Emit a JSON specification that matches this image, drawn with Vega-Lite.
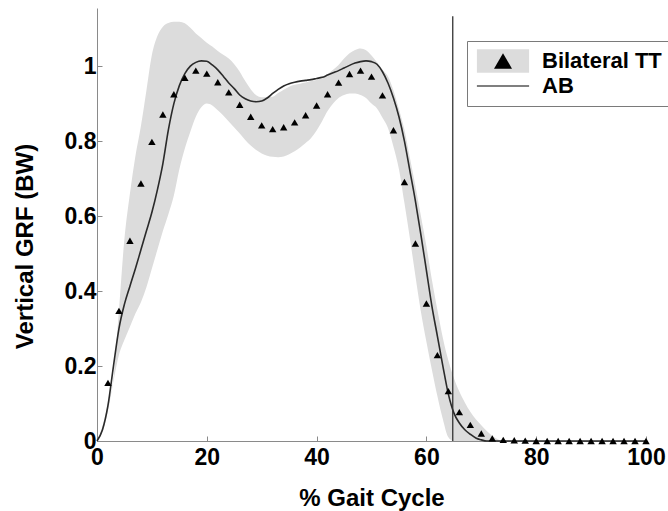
{
  "$schema": "https://vega.github.io/schema/vega-lite/v6.json",
  "width": 549,
  "height": 433,
  "autosize": "none",
  "padding": {"left": 97, "top": 8, "right": 22, "bottom": 70},
  "background": "white",
  "config": {
    "view": {"stroke": null},
    "font": "Liberation Sans",
    "axis": {
      "labelFont": "Liberation Sans", "labelFontSize": 23, "labelFontWeight": "bold", "labelColor": "black",
      "titleFont": "Liberation Sans", "titleFontSize": 24, "titleFontWeight": "bold", "titleColor": "black",
      "domainColor": "#8a8a8a", "tickColor": "#8a8a8a", "tickSize": -5, "grid": false
    },
    "legend": {
      "labelFont": "Liberation Sans", "labelFontSize": 22, "labelFontWeight": "bold", "labelColor": "black"
    }
  },
  "datasets": {
    "curves": [
      {"x": 0, "ab": 0, "lo": 0, "hi": 0},
      {"x": 1, "ab": 0.03, "lo": 0.025, "hi": 0.04},
      {"x": 2, "ab": 0.095, "lo": 0.08, "hi": 0.1},
      {"x": 3, "ab": 0.2, "lo": 0.16, "hi": 0.17},
      {"x": 4, "ab": 0.3, "lo": 0.23, "hi": 0.35},
      {"x": 5, "ab": 0.365, "lo": 0.27, "hi": 0.54},
      {"x": 6, "ab": 0.413, "lo": 0.305, "hi": 0.66},
      {"x": 7, "ab": 0.46, "lo": 0.34, "hi": 0.76},
      {"x": 8, "ab": 0.51, "lo": 0.37, "hi": 0.84},
      {"x": 9, "ab": 0.56, "lo": 0.41, "hi": 0.935},
      {"x": 10, "ab": 0.61, "lo": 0.46, "hi": 1.03},
      {"x": 11, "ab": 0.67, "lo": 0.51, "hi": 1.08},
      {"x": 12, "ab": 0.74, "lo": 0.56, "hi": 1.105},
      {"x": 13, "ab": 0.83, "lo": 0.605, "hi": 1.115},
      {"x": 14, "ab": 0.9, "lo": 0.655, "hi": 1.118},
      {"x": 15, "ab": 0.948, "lo": 0.725, "hi": 1.118},
      {"x": 16, "ab": 0.98, "lo": 0.78, "hi": 1.114},
      {"x": 17, "ab": 1.0, "lo": 0.825, "hi": 1.102},
      {"x": 18, "ab": 1.01, "lo": 0.865, "hi": 1.087},
      {"x": 19, "ab": 1.014, "lo": 0.89, "hi": 1.075},
      {"x": 20, "ab": 1.013, "lo": 0.9, "hi": 1.062},
      {"x": 21, "ab": 1.003, "lo": 0.895, "hi": 1.052},
      {"x": 22, "ab": 0.99, "lo": 0.882, "hi": 1.04},
      {"x": 23, "ab": 0.973, "lo": 0.868, "hi": 1.03},
      {"x": 24, "ab": 0.955, "lo": 0.852, "hi": 1.02},
      {"x": 25, "ab": 0.94, "lo": 0.836, "hi": 1.005},
      {"x": 26, "ab": 0.923, "lo": 0.82, "hi": 0.985},
      {"x": 27, "ab": 0.913, "lo": 0.803, "hi": 0.96},
      {"x": 28, "ab": 0.907, "lo": 0.788, "hi": 0.938},
      {"x": 29, "ab": 0.905, "lo": 0.776, "hi": 0.922},
      {"x": 30, "ab": 0.907, "lo": 0.767, "hi": 0.917},
      {"x": 31, "ab": 0.915, "lo": 0.761, "hi": 0.917},
      {"x": 32, "ab": 0.927, "lo": 0.758, "hi": 0.918},
      {"x": 33, "ab": 0.938, "lo": 0.757, "hi": 0.928},
      {"x": 34, "ab": 0.947, "lo": 0.759, "hi": 0.937},
      {"x": 35, "ab": 0.953, "lo": 0.765, "hi": 0.945},
      {"x": 36, "ab": 0.957, "lo": 0.773, "hi": 0.95},
      {"x": 37, "ab": 0.96, "lo": 0.783, "hi": 0.953},
      {"x": 38, "ab": 0.962, "lo": 0.795, "hi": 0.956},
      {"x": 39, "ab": 0.964, "lo": 0.808, "hi": 0.96},
      {"x": 40, "ab": 0.967, "lo": 0.828, "hi": 0.963},
      {"x": 41, "ab": 0.97, "lo": 0.853, "hi": 0.968},
      {"x": 42, "ab": 0.976, "lo": 0.88, "hi": 0.978},
      {"x": 43, "ab": 0.982, "lo": 0.9, "hi": 0.99},
      {"x": 44, "ab": 0.988, "lo": 0.915, "hi": 1.003},
      {"x": 45, "ab": 0.995, "lo": 0.923, "hi": 1.02},
      {"x": 46, "ab": 1.002, "lo": 0.927, "hi": 1.034},
      {"x": 47, "ab": 1.008, "lo": 0.927, "hi": 1.043},
      {"x": 48, "ab": 1.012, "lo": 0.923, "hi": 1.047},
      {"x": 49, "ab": 1.014, "lo": 0.915, "hi": 1.042},
      {"x": 50, "ab": 1.012, "lo": 0.9, "hi": 1.028},
      {"x": 51, "ab": 1.005, "lo": 0.887, "hi": 1.01},
      {"x": 52, "ab": 0.985, "lo": 0.862, "hi": 0.99},
      {"x": 53, "ab": 0.955, "lo": 0.835, "hi": 0.972},
      {"x": 54, "ab": 0.915, "lo": 0.785, "hi": 0.935},
      {"x": 55, "ab": 0.865, "lo": 0.725, "hi": 0.885},
      {"x": 56, "ab": 0.8, "lo": 0.635, "hi": 0.83},
      {"x": 57, "ab": 0.72, "lo": 0.54, "hi": 0.755},
      {"x": 58, "ab": 0.64, "lo": 0.44, "hi": 0.68},
      {"x": 59, "ab": 0.55, "lo": 0.345, "hi": 0.6},
      {"x": 60, "ab": 0.455, "lo": 0.265, "hi": 0.52},
      {"x": 61, "ab": 0.36, "lo": 0.19, "hi": 0.43},
      {"x": 62, "ab": 0.28, "lo": 0.12, "hi": 0.35},
      {"x": 63, "ab": 0.2, "lo": 0.058, "hi": 0.275},
      {"x": 64, "ab": 0.125, "lo": 0.01, "hi": 0.215},
      {"x": 65, "ab": 0.075, "lo": 0, "hi": 0.168},
      {"x": 66, "ab": 0.048, "lo": 0, "hi": 0.132},
      {"x": 67, "ab": 0.03, "lo": 0, "hi": 0.103},
      {"x": 68, "ab": 0.018, "lo": 0, "hi": 0.078},
      {"x": 69, "ab": 0.008, "lo": 0, "hi": 0.058},
      {"x": 70, "ab": 0.003, "lo": 0, "hi": 0.042},
      {"x": 71, "ab": 0, "lo": 0, "hi": 0.027},
      {"x": 72, "ab": 0, "lo": 0, "hi": 0.014},
      {"x": 73, "ab": 0, "lo": 0, "hi": 0.005},
      {"x": 74, "ab": 0, "lo": 0, "hi": 0},
      {"x": 100, "ab": 0, "lo": 0, "hi": 0}
    ],
    "tt": [
      {"x": 2, "y": 0.155}, {"x": 4, "y": 0.347}, {"x": 6, "y": 0.534}, {"x": 8, "y": 0.687},
      {"x": 10, "y": 0.798}, {"x": 12, "y": 0.871}, {"x": 14, "y": 0.925}, {"x": 16, "y": 0.969},
      {"x": 18, "y": 0.988}, {"x": 20, "y": 0.98}, {"x": 22, "y": 0.957}, {"x": 24, "y": 0.93},
      {"x": 26, "y": 0.897}, {"x": 28, "y": 0.865}, {"x": 30, "y": 0.842}, {"x": 32, "y": 0.832},
      {"x": 34, "y": 0.837}, {"x": 36, "y": 0.85}, {"x": 38, "y": 0.869}, {"x": 40, "y": 0.895},
      {"x": 42, "y": 0.925}, {"x": 44, "y": 0.956}, {"x": 46, "y": 0.979}, {"x": 48, "y": 0.988},
      {"x": 50, "y": 0.972}, {"x": 52, "y": 0.922}, {"x": 54, "y": 0.829}, {"x": 56, "y": 0.691},
      {"x": 58, "y": 0.527}, {"x": 60, "y": 0.367}, {"x": 62, "y": 0.229}, {"x": 64, "y": 0.133},
      {"x": 66, "y": 0.077}, {"x": 68, "y": 0.043}, {"x": 70, "y": 0.02}, {"x": 72, "y": 0.007},
      {"x": 74, "y": 0.003}, {"x": 76, "y": 0.002}, {"x": 78, "y": 0.001}, {"x": 80, "y": 0},
      {"x": 82, "y": 0}, {"x": 84, "y": 0}, {"x": 86, "y": 0}, {"x": 88, "y": 0}, {"x": 90, "y": 0},
      {"x": 92, "y": 0}, {"x": 94, "y": 0}, {"x": 96, "y": 0}, {"x": 98, "y": 0}, {"x": 100, "y": 0}
    ],
    "toeoff": [{"x": 64.8}]
  },
  "layer": [
    {
      "data": {"name": "curves"},
      "mark": {"type": "area", "interpolate": "monotone"},
      "encoding": {
        "x": {"field": "x", "type": "quantitative", "scale": {"domain": [0, 100], "nice": false},
          "axis": {"values": [0, 20, 40, 60, 80, 100], "labelFlush": false, "labelPadding": 28, "labelBaseline": "alphabetic",
            "title": "% Gait Cycle", "titleY": 64, "titleBaseline": "alphabetic"}},
        "y": {"field": "hi", "type": "quantitative", "scale": {"domain": [0, 1.155], "nice": false, "zero": false},
          "axis": {"values": [0, 0.2, 0.4, 0.6, 0.8, 1], "format": "~g", "labelPadding": 6,
            "title": "Vertical GRF (BW)", "titleX": -65, "titleY": 238, "titleBaseline": "alphabetic"}},
        "y2": {"field": "lo"},
        "fill": {"datum": "Bilateral TT", "scale": {"domain": ["Bilateral TT"], "range": ["#dcdcdc"]},
          "legend": {"title": null, "orient": "none", "legendX": 370, "legendY": 33, "padding": 9,
            "symbolType": "M-2.9,-1.3H2.9V1.3H-2.9Z", "symbolSize": 324, "symbolOffset": 16, "labelOffset": 28,
            "symbolStrokeWidth": 0, "labelOpacity": 0, "rowPadding": 3}}
      }
    },
    {
      "data": {"name": "curves"},
      "mark": {"type": "line", "interpolate": "monotone", "color": "#2a2a2a", "strokeWidth": 1.6},
      "encoding": {
        "x": {"field": "x", "type": "quantitative"},
        "y": {"field": "ab", "type": "quantitative"}
      }
    },
    {
      "data": {"name": "tt"},
      "mark": {"type": "point", "filled": true, "color": "black", "size": 55, "opacity": 1},
      "encoding": {
        "x": {"field": "x", "type": "quantitative"},
        "y": {"field": "y", "type": "quantitative"},
        "shape": {"datum": "Bilateral TT", "scale": {"domain": ["Bilateral TT", "AB"], "range": ["triangle-up", "M-2.9,-0.06L2.9,-0.06L2.9,0.06L-2.9,0.06Z"]},
          "legend": {"title": null, "orient": "none", "legendX": 370, "legendY": 33, "padding": 9,
            "symbolSize": 324, "symbolOffset": 16, "labelOffset": 28, "rowPadding": 3,
            "strokeColor": "#7a7a7a",
            "encode": {"symbols": {"update": {"fill": {"value": "black"}, "fillOpacity": {"value": 1}, "stroke": {"value": "black"}, "strokeOpacity": {"value": 1}, "strokeWidth": {"value": 1}, "opacity": {"value": 1}}}}}}
      }
    },
    {
      "data": {"name": "toeoff"},
      "mark": {"type": "rule", "color": "#333333", "strokeWidth": 1.3},
      "encoding": {
        "x": {"field": "x", "type": "quantitative"},
        "y": {"datum": 0},
        "y2": {"datum": 1.133}
      }
    }
  ]
}
